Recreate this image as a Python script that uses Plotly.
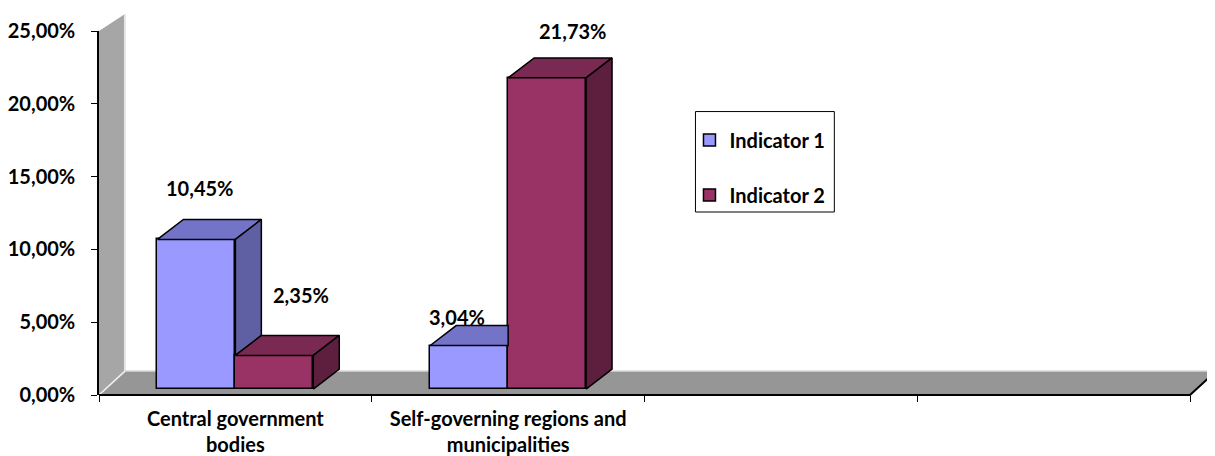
import plotly.graph_objects as go

# chart values
CATEGORIES = ["Central government<br>bodies", "Self-governing regions and<br>municipalities"]
N_SLOTS = 4  # the axis keeps room for four categories, two are empty
SERIES = ["Indicator 1", "Indicator 2"]
INDICATOR_1 = [10.45, 3.04]
INDICATOR_2 = [2.35, 21.73]
Y_TICKS = [0, 5, 10, 15, 20, 25]

# styling
FONT = "Lato"
FS = 20
PAGE = 8  # body margin of the html page
FRONT = {"Indicator 1": "#9999ff", "Indicator 2": "#993366"}
TOP = {"Indicator 1": "#7373c8", "Indicator 2": "#7a2952"}
SIDE = {"Indicator 1": "#5f5fa3", "Indicator 2": "#5e1f3f"}
BAR_W = 78 / 273      # bar width in category units
DX = 26 / 273         # 3d depth, category units
DY = 1.39             # 3d depth, % units on the bar axis
FLOOR_DY = 24 / 366   # floor depth, paper units
WALL_TOP = 17 / 366
# nudges (px) for the value labels, Excel 3d placement is uneven
LABEL_SHIFT = {"Indicator 1": [(-10, 31), (-25, 9)], "Indicator 2": [(14, 40), (12, 27)]}


def pct(v):
    return f"{v:.2f}".replace(".", ",") + "%"


def px_x(p):  # pixel column -> paper x
    return (p - 98) / 1117


def px_y(p):  # pixel row -> paper y
    return (397 - p) / 366


def face(xs, ys, color):
    return go.Scatter(
        x=xs + xs[:1], y=ys + ys[:1], yaxis="y2",
        mode="lines", fill="toself", fillcolor=color,
        line=dict(color="black", width=1.5),
        hoverinfo="skip", showlegend=False,
    )


values = {"Indicator 1": INDICATOR_1, "Indicator 2": INDICATOR_2}
centers = [i + 0.5 for i in range(len(CATEGORIES))]

fig = go.Figure()
# keeps the labelled y axis alive (everything else lives on y2)
fig.add_trace(go.Scatter(x=[None], y=[None], showlegend=False, hoverinfo="skip"))
for k, name in enumerate(SERIES):
    fig.add_trace(go.Bar(
        x=centers, y=values[name], name=name, yaxis="y2",
        width=BAR_W, offset=-BAR_W if k == 0 else 0,
        marker=dict(color=FRONT[name], line=dict(color="black", width=1.5)),
        legendgroup=name,
    ))

# top and side faces, painted left to right so neighbours overlap correctly
for c, v1, v2 in zip(centers, INDICATOR_1, INDICATOR_2):
    xl, xm, xr = c - BAR_W, c, c + BAR_W
    n1, n2 = SERIES
    if v2 > v1:
        fig.add_trace(face([xl, xm, xm, xl + DX], [v1, v1, v1 + DY, v1 + DY], TOP[n1]))
    else:
        fig.add_trace(face([xl, xm, xm + DX, xl + DX], [v1, v1, v1 + DY, v1 + DY], TOP[n1]))
        fig.add_trace(face([xm, xm, xm + DX, xm + DX], [v2, v1, v1 + DY, v2 + DY], SIDE[n1]))
    fig.add_trace(face([xm, xr, xr + DX, xm + DX], [v2, v2, v2 + DY, v2 + DY], TOP[n2]))
    fig.add_trace(face([xr, xr, xr + DX, xr + DX], [0, v2, v2 + DY, DY], SIDE[n2]))

# value labels
for k, name in enumerate(SERIES):
    for i, v in enumerate(values[name]):
        xc = centers[i] + (-BAR_W / 2 if k == 0 else BAR_W / 2) + DX / 2
        sx, sy = LABEL_SHIFT[name][i]
        fig.add_annotation(
            x=xc, y=v + DY, xref="x", yref="y2", text=pct(v), showarrow=False,
            xshift=sx, yshift=sy, yanchor="middle",
            font=dict(family=FONT, size=FS, color="black", weight="bold"),
        )

# side wall and floor
fig.add_shape(
    type="path", xref="x", yref="paper", layer="below",
    path=f"M0,0 L0,1 L{DX:.4f},{1 + WALL_TOP:.4f} L{DX:.4f},{FLOOR_DY:.4f} Z",
    fillcolor="#a6a6a6", line=dict(width=0),
)
fig.add_shape(
    type="line", xref="x", yref="paper", layer="below",
    x0=DX, y0=FLOOR_DY, x1=DX, y1=1 + WALL_TOP,
    line=dict(color="#e6e6e6", width=2),
)
fig.add_shape(
    type="path", xref="x", yref="paper", layer="below",
    path=f"M0,0 L{N_SLOTS},0 L{N_SLOTS + DX:.4f},{FLOOR_DY:.4f} L{DX:.4f},{FLOOR_DY:.4f} Z",
    fillcolor="#969696", line=dict(width=0),
)
fig.add_shape(
    type="line", xref="x", yref="paper", layer="below",
    x0=DX, y0=FLOOR_DY, x1=N_SLOTS + DX, y1=FLOOR_DY,
    line=dict(color="#c8c8c8", width=1.5),
)
fig.add_shape(
    type="line", xref="x", yref="paper", layer="below",
    x0=0, y0=0, x1=DX, y1=FLOOR_DY,
    line=dict(color="#f2f2f2", width=1.5),
)
fig.add_shape(
    type="path", xref="x", yref="paper",
    path=f"M0,0 L{N_SLOTS},0 L{N_SLOTS + DX:.4f},{FLOOR_DY:.4f}",
    line=dict(color="black", width=2),
)
# legend frame
fig.add_shape(
    type="rect", xref="paper", yref="paper",
    x0=px_x(695), x1=px_x(834), y0=px_y(213), y1=px_y(112),
    fillcolor="white", line=dict(color="black", width=1),
)

fig.update_layout(
    width=1215 - PAGE, height=456 - PAGE,
    margin=dict(l=98 - PAGE, r=0, t=31 - PAGE, b=59),
    plot_bgcolor="white", paper_bgcolor="white",
    font=dict(family=FONT, size=FS, color="black", weight="bold"),
    bargap=0,
    xaxis=dict(
        range=[0, N_SLOTS + 25 / 273], tickvals=centers, ticktext=CATEGORIES,
        ticks="", showgrid=False, zeroline=False, showline=False,
        minor=dict(tick0=0, dtick=1, ticks="outside", ticklen=6, tickcolor="black"),
        ticklabelstandoff=10,
    ),
    yaxis=dict(
        range=[0, 25], tickvals=Y_TICKS, ticktext=[pct(t) for t in Y_TICKS],
        ticks="outside", ticklen=6, tickcolor="black",
        showline=True, linecolor="black", linewidth=1.5,
        showgrid=False, zeroline=False, ticklabelstandoff=12,
    ),
    yaxis2=dict(range=[-6 / 14.4, 25.0], overlaying="y", visible=False),
    legend=dict(
        x=px_x(689), y=px_y(121), xanchor="left", yanchor="top",
        borderwidth=0, bgcolor="rgba(0,0,0,0)",
        traceorder="grouped", tracegroupgap=26,
        font=dict(family=FONT, size=FS, weight="bold"),
    ),
    showlegend=True,
)

fig.write_html("out.html")
